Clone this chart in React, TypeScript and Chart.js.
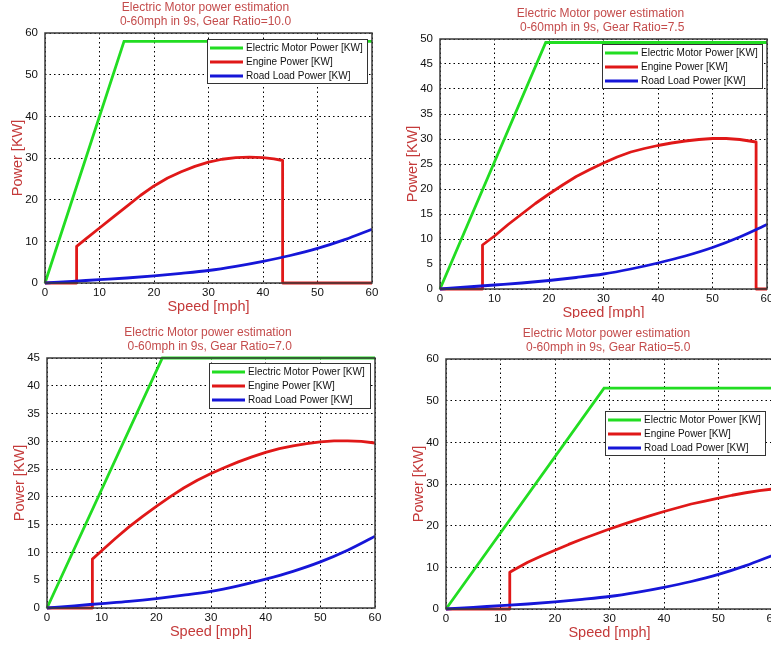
import React, { useEffect, useRef } from 'react';
import { Chart, registerables } from 'chart.js';

Chart.register(...registerables);

const FONT = '"Liberation Sans", Arial, Helvetica, sans-serif';

// ---------- data ----------
const speedTicks = [0, 10, 20, 30, 40, 50, 60];
const powerTicksA = [0, 10, 20, 30, 40, 50, 60];
const powerTicksB = [0, 5, 10, 15, 20, 25, 30, 35, 40, 45, 50];
const powerTicksC = [0, 5, 10, 15, 20, 25, 30, 35, 40, 45];
const powerTicksD = [0, 10, 20, 30, 40, 50, 60];

const titleLine1 = 'Electric Motor power estimation';
const titleLine2 = [
  '0-60mph in 9s, Gear Ratio=10.0',
  ' 0-60mph in 9s, Gear Ratio=7.5',
  ' 0-60mph in 9s, Gear Ratio=7.0',
  ' 0-60mph in 9s, Gear Ratio=5.0',
];
const seriesLabels = ['Electric Motor Power [KW]', 'Engine Power [KW]', 'Road Load Power [KW]'];

const roadSpeed = [0, 5, 10, 15, 20, 25, 30, 35, 40, 45, 50, 55, 60];
const roadPower = [0, 0.4, 0.8, 1.2, 1.7, 2.3, 3.0, 4.0, 5.2, 6.6, 8.3, 10.4, 12.9];

// Gear ratio 10.0
const motorSpeedA = [0, 14.5, 60];
const motorPowerA = [0, 58, 58];
const engineSpeedA = [0, 5.8, 5.8, 7.5, 10, 12.5, 15, 17.5, 20, 22.5, 25, 27.5, 30, 32.5, 35, 37.5, 40, 42, 43.6, 43.6, 60];
const enginePowerA = [0, 0, 8.8, 10.6, 13.2, 15.8, 18.4, 21.0, 23.3, 25.2, 26.7, 28.0, 29.0, 29.7, 30.1, 30.2, 30.1, 29.8, 29.4, 0, 0];

// Gear ratio 7.5
const motorSpeedB = [0, 19.4, 60];
const motorPowerB = [0, 49.3, 49.3];
const engineSpeedB = [0, 7.8, 7.8, 10, 12.5, 15, 17.5, 20, 22.5, 25, 27.5, 30, 32.5, 35, 37.5, 40, 42.5, 45, 47.5, 50, 52.5, 55, 58, 58, 60];
const enginePowerB = [0, 0, 8.8, 10.6, 12.9, 15.0, 17.1, 19.0, 20.8, 22.5, 23.9, 25.2, 26.4, 27.4, 28.1, 28.7, 29.2, 29.6, 29.9, 30.1, 30.1, 29.9, 29.4, 0, 0];

// Gear ratio 7.0
const motorSpeedC = [0, 21.1, 60];
const motorPowerC = [0, 45, 45];
const engineSpeedC = [0, 8.3, 8.3, 10, 12.5, 15, 17.5, 20, 22.5, 25, 27.5, 30, 32.5, 35, 37.5, 40, 42.5, 45, 47.5, 50, 52.5, 55, 57.5, 60];
const enginePowerC = [0, 0, 8.8, 10.3, 12.5, 14.6, 16.5, 18.3, 20.0, 21.6, 23.0, 24.2, 25.3, 26.3, 27.2, 28.0, 28.7, 29.2, 29.6, 29.9, 30.1, 30.1, 30.0, 29.7];

// Gear ratio 5.0
const motorSpeedD = [0, 29, 60];
const motorPowerD = [0, 53, 53];
const engineSpeedD = [0, 11.7, 11.7, 12.5, 15, 17.5, 20, 22.5, 25, 27.5, 30, 32.5, 35, 37.5, 40, 42.5, 45, 47.5, 50, 52.5, 55, 57.5, 60];
const enginePowerD = [0, 0, 8.8, 9.4, 11.2, 12.7, 14.1, 15.5, 16.8, 18.0, 19.2, 20.3, 21.4, 22.4, 23.4, 24.3, 25.2, 25.9, 26.6, 27.3, 27.9, 28.4, 28.8];

// ---------- layout ----------
const Y_AXIS_W = 45;
const X_AXIS_H = 33;
const TITLE_H = 33;

const panels = [
  { title: titleLine2[0], yMax: 60, yTicks: powerTicksA, motor: [motorSpeedA, motorPowerA], engine: [engineSpeedA, enginePowerA],
    left: 0, top: 0, plotW: 327, clipH: 316, legend: { x: 162, y: 6, w: 161, h: 45 } },
  { title: titleLine2[1], yMax: 50, yTicks: powerTicksB, motor: [motorSpeedB, motorPowerB], engine: [engineSpeedB, enginePowerB],
    left: 395, top: 6, plotW: 327, clipH: 312, legend: { x: 162, y: 5, w: 161, h: 45 } },
  { title: titleLine2[2], yMax: 45, yTicks: powerTicksC, motor: [motorSpeedC, motorPowerC], engine: [engineSpeedC, enginePowerC],
    left: 2, top: 325, plotW: 328, clipH: 316, legend: { x: 162, y: 5, w: 162, h: 46 } },
  { title: titleLine2[3], yMax: 60, yTicks: powerTicksD, motor: [motorSpeedD, motorPowerD], engine: [engineSpeedD, enginePowerD],
    left: 401, top: 326, plotW: 327, clipH: 316, legend: { x: 159, y: 52, w: 161, h: 45 } },
];

const zip = (xs: number[], ys: number[]) => xs.map((x, i) => ({ x, y: ys[i] }));

const framePlugin = {
  id: 'frameBox',
  afterDatasetsDraw(chart: any) {
    const { ctx, chartArea } = chart;
    ctx.save();
    ctx.strokeStyle = '#3a3a3a';
    ctx.lineWidth = 1.5;
    ctx.strokeRect(chartArea.left, chartArea.top, chartArea.right - chartArea.left, chartArea.bottom - chartArea.top);
    ctx.restore();
  },
};

const legendBoxPlugin = {
  id: 'legendBox',
  afterDraw(chart: any, _args: any, opts: any) {
    const { ctx, chartArea } = chart;
    const x = chartArea.left + opts.x;
    const y = chartArea.top + opts.y;
    ctx.save();
    ctx.fillStyle = '#ffffff';
    ctx.fillRect(x, y, opts.w, opts.h);
    ctx.strokeStyle = '#333333';
    ctx.lineWidth = 1;
    ctx.strokeRect(x + 0.5, y + 0.5, opts.w - 1, opts.h - 1);
    chart.data.datasets.forEach((ds: any, i: number) => {
      const ry = y + 9 + i * 14;
      ctx.strokeStyle = ds.borderColor;
      ctx.lineWidth = 3;
      ctx.beginPath();
      ctx.moveTo(x + 3, ry);
      ctx.lineTo(x + 36, ry);
      ctx.stroke();
      ctx.fillStyle = '#111111';
      ctx.font = `10px ${FONT}`;
      ctx.textBaseline = 'middle';
      ctx.textAlign = 'left';
      ctx.fillText(ds.label, x + 39, ry + 0.5);
    });
    ctx.restore();
  },
};

const GREEN = '#22dd22';
const RED = '#e01818';
const BLUE = '#1616d8';
const TITLE_COLOR = '#c44c4c';
const LABEL_COLOR = '#c43a3a';

function Panel({ p }: { p: (typeof panels)[number] }) {
  const ref = useRef<HTMLCanvasElement | null>(null);
  const width = Y_AXIS_W + p.plotW + (Y_AXIS_W - 6);
  const height = TITLE_H + 250 + X_AXIS_H;

  useEffect(() => {
    if (!ref.current) return;
    const chart = new Chart(ref.current, {
      type: 'line',
      data: {
        datasets: [
          { label: seriesLabels[0], data: zip(p.motor[0], p.motor[1]), borderColor: GREEN, backgroundColor: GREEN, borderWidth: 2.8, pointRadius: 0, tension: 0, order: 2, clip: 3 },
          { label: seriesLabels[1], data: zip(p.engine[0], p.engine[1]), borderColor: RED, backgroundColor: RED, borderWidth: 2.8, pointRadius: 0, tension: 0, borderJoinStyle: 'round', order: 1, clip: 3 },
          { label: seriesLabels[2], data: zip(roadSpeed, roadPower), borderColor: BLUE, backgroundColor: BLUE, borderWidth: 2.8, pointRadius: 0, tension: 0.35, cubicInterpolationMode: 'monotone', order: 0, clip: 3 },
        ] as any,
      },
      options: {
        responsive: false,
        animation: false,
        events: [],
        layout: { padding: 0 },
        scales: {
          x: {
            type: 'linear',
            min: 0,
            max: 60,
            afterBuildTicks: (ax: any) => { ax.ticks = speedTicks.map((v) => ({ value: v })); },
            afterFit: (ax: any) => { ax.height = X_AXIS_H; },
            grid: { color: '#000', lineWidth: 1, drawTicks: false },
            border: { display: false, dash: [1.5, 3] },
            ticks: { padding: 3, color: '#111', font: { size: 11.5, family: FONT }, maxRotation: 0 },
            title: { display: true, text: 'Speed [mph]', color: LABEL_COLOR, font: { size: 14.5, family: FONT }, padding: { top: 0, bottom: 0 } },
          },
          y: {
            type: 'linear',
            min: 0,
            max: p.yMax,
            afterBuildTicks: (ax: any) => { ax.ticks = p.yTicks.map((v) => ({ value: v })); },
            afterFit: (ax: any) => { ax.width = Y_AXIS_W; },
            grid: { color: '#000', lineWidth: 1, drawTicks: false },
            border: { display: false, dash: [1.5, 3] },
            ticks: { padding: 7, color: '#111', font: { size: 11.5, family: FONT } },
            title: { display: true, text: 'Power [KW]', color: LABEL_COLOR, font: { size: 14.5, family: FONT }, padding: { top: 9.3, bottom: 0 } },
          },
          y2: {
            type: 'linear',
            position: 'right',
            display: true,
            afterFit: (ax: any) => { ax.width = Y_AXIS_W - 6; },
            grid: { display: false, drawTicks: false },
            border: { display: false },
            ticks: { display: false },
          },
        },
        plugins: {
          legend: { display: false },
          tooltip: { enabled: false },
          title: {
            display: true,
            text: [titleLine1, p.title],
            color: TITLE_COLOR,
            font: { size: 12, family: FONT, weight: 'normal', lineHeight: 1.2 },
            padding: { top: 0, bottom: TITLE_H - 28.8 },
          },
          legendBox: p.legend,
        } as any,
      },
      plugins: [framePlugin, legendBoxPlugin],
    });
    return () => chart.destroy();
  }, []);

  return (
    <div style={{ position: 'absolute', left: p.left, top: p.top, width, height: p.clipH, overflow: 'hidden' }}>
      <canvas ref={ref} width={width} height={height} style={{ width, height, display: 'block' }} />
    </div>
  );
}

export default function App() {
  return (
    <div style={{ position: 'fixed', left: 0, top: 0, width: 771, height: 646, overflow: 'hidden', background: '#fff' }}>
      {panels.map((p, i) => (
        <Panel key={i} p={p} />
      ))}
    </div>
  );
}
